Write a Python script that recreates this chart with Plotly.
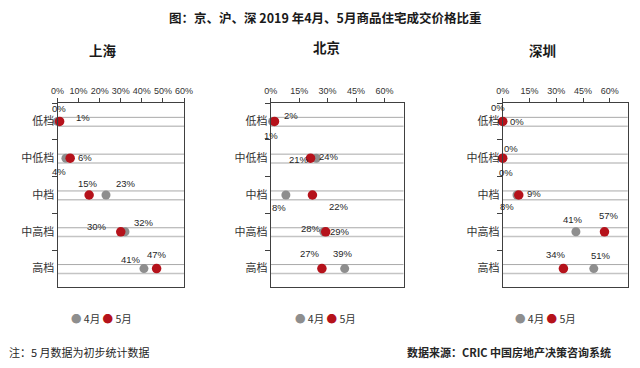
import plotly.graph_objects as go

# ---------------- data ----------------
categories = ["低档", "中低档", "中档", "中高档", "高档"]
cities = ["上海", "北京", "深圳"]
months = ["4月", "5月"]
apr_sh = [0, 4, 23, 32, 41]
may_sh = [1, 6, 15, 30, 47]
apr_bj = [1, 24, 8, 28, 39]
may_bj = [2, 21, 22, 29, 27]
apr_sz = [0, 0, 8, 41, 51]
may_sz = [0, 0, 9, 57, 34]
ticks_sh = [0, 10, 20, 30, 40, 50, 60]
ticks_bj = [0, 15, 30, 45, 60]
ticks_sz = [0, 15, 30, 45, 60]
title_text = "图：京、沪、深 2019 年4月、5月商品住宅成交价格比重"
note_text = "注：5 月数据为初步统计数据"
source_text = "数据来源：CRIC 中国房地产决策咨询系统"

# ---------------- style ----------------
GRAY = "#8e8e8e"
RED = "#b5121b"
CJK = "Noto Sans CJK SC"
NARROW = "Liberation Sans Narrow, Liberation Sans, Arial, sans-serif"
TXT = "#262626"

panels = [
    dict(city=cities[0], apr=apr_sh, may=may_sh, ticks=ticks_sh, rng=[0, 60],
         dom=[57.5 / 640, 184 / 640], sub_x=103 / 640, sub_y=50,
         leg_x=101.5 / 640,
         off_apr=[(1.5, -13), (-7, 13), (20, -12), (19, -9), (-13, -9)],
         off_may=[(23, -4), (15, -1), (-1, -12), (-24, -5), (0, -14)]),
    dict(city=cities[1], apr=apr_bj, may=may_bj, ticks=ticks_bj, rng=[0, 70],
         dom=[270.7 / 640, 403.5 / 640], sub_x=326.5 / 640, sub_y=47,
         leg_x=325.5 / 640,
         off_apr=[(-1.5, 14.5), (12.5, -2), (-7, 12), (-13, -3), (-2, -15)],
         off_may=[(17, -6), (-12, 1), (27, 11), (14, 0), (-12, -15)]),
    dict(city=cities[2], apr=apr_sz, may=may_sz, ticks=ticks_sz, rng=[0, 70],
         dom=[502.7 / 640, 627.7 / 640], sub_x=542.5 / 640, sub_y=50,
         leg_x=545 / 640,
         off_apr=[(-5, -14), (3, 14), (-10, 11), (-3, -12), (7, -13)],
         off_may=[(14, 0), (8, -10), (15, -2), (5, -16), (-7, -14)]),
]

Y_DOM = [1 - 287 / 368, 1 - 103 / 368]

fig = go.Figure()
annotations = []
shapes = []

for i, p in enumerate(panels):
    n = "" if i == 0 else str(i + 1)
    xa, ya = "x" + n, "y" + n
    for vals, color, name, size in ((p["apr"], GRAY, months[0], 9),
                                    (p["may"], RED, months[1], 9.5)):
        fig.add_trace(go.Scatter(
            x=vals, y=categories, mode="markers", name=name,
            marker=dict(color=color, size=size),
            xaxis=xa, yaxis=ya, cliponaxis=False, showlegend=False,
            hoverinfo="skip"))
    # data labels
    for vals, offs in ((p["apr"], p["off_apr"]), (p["may"], p["off_may"])):
        for v, c, (dx, dy) in zip(vals, categories, offs):
            annotations.append(dict(
                x=v, y=c, xref=xa, yref=ya, text=f"{v}%", showarrow=False,
                xshift=dx, yshift=-dy,
                font=dict(family=NARROW, size=9.5, color=TXT)))
    # paired guide lines for each category
    for k in range(len(categories)):
        for off, col, w in ((-0.11, "#a9a9a9", 1), (0.13, "#c4c4c4", 1.5)):
            shapes.append(dict(
                type="line", xref=xa + " domain", yref=ya,
                x0=0, x1=1, y0=k + off, y1=k + off,
                line=dict(color=col, width=w), layer="below"))
    # axes
    fig.update_layout(**{
        ("xaxis" + n): dict(
            domain=p["dom"], range=p["rng"], side="top", anchor=ya,
            tickvals=p["ticks"], ticktext=[f"{t}%" for t in p["ticks"]],
            ticks="outside", ticklen=4, tickcolor="#404040",
            showline=True, linecolor="#404040", linewidth=1, mirror=True,
            showgrid=False, zeroline=False, automargin=False,
            tickfont=dict(family=NARROW, size=9, color="#333333")),
        ("yaxis" + n): dict(
            domain=Y_DOM, type="category", categoryorder="array",
            categoryarray=categories, range=[4.5, -0.5], anchor=xa,
            ticks="outside", tickson="boundaries", ticklen=5,
            tickcolor="#404040",
            showline=True, linecolor="#404040", linewidth=1, mirror=True,
            showgrid=False, zeroline=False, automargin=False,
            tickfont=dict(family=CJK, size=11, color="#333333")),
    })
    # city subtitle
    annotations.append(dict(
        x=p["sub_x"], y=1 - p["sub_y"] / 368, xref="paper", yref="paper",
        text=f"<b>{p['city']}</b>", showarrow=False,
        xanchor="center", yanchor="middle",
        font=dict(family=CJK, size=13.5, color="#1a1a1a")))
    # legend
    annotations.append(dict(
        x=p["leg_x"], y=1 - 318 / 368, xref="paper", yref="paper",
        text=(f"<span style='color:{GRAY}'>●</span> {months[0]} "
              f"<span style='color:{RED}'>●</span> {months[1]}"),
        showarrow=False, xanchor="center", yanchor="middle",
        font=dict(family=CJK, size=10.5, color="#333333")))

annotations.append(dict(
    x=325 / 640, y=1 - 17 / 368, xref="paper", yref="paper",
    text=f"<b>{title_text}</b>", showarrow=False,
    xanchor="center", yanchor="middle",
    font=dict(family=CJK, size=12.5, color="#1a1a1a")))
annotations.append(dict(
    x=7 / 640, y=1 - 352 / 368, xref="paper", yref="paper",
    text=note_text, showarrow=False, xanchor="left", yanchor="middle",
    font=dict(family=CJK, size=11, color="#262626")))
annotations.append(dict(
    x=405 / 640, y=1 - 352 / 368, xref="paper", yref="paper",
    text=f"<b>{source_text}</b>", showarrow=False,
    xanchor="left", yanchor="middle",
    font=dict(family=CJK, size=11, color="#262626")))

fig.update_layout(
    width=640, height=368, autosize=False,
    margin=dict(l=0, r=0, t=0, b=0, pad=0),
    paper_bgcolor="white", plot_bgcolor="white",
    showlegend=False, hovermode=False,
    annotations=annotations, shapes=shapes,
)

fig.write_html(
    "out.html",
    config={"displayModeBar": False, "staticPlot": True},
    post_script="document.body.style.margin='0';"
                "document.body.style.overflow='hidden';",
)
